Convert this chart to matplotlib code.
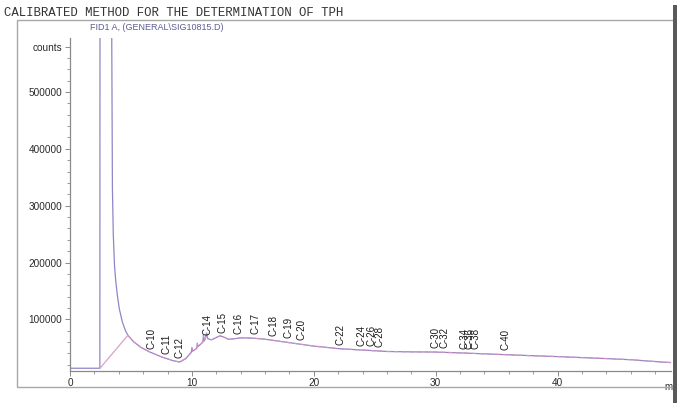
import numpy as np
import matplotlib
matplotlib.use("Agg")
import matplotlib.pyplot as plt
from matplotlib.patches import Rectangle

# chromatogram trace (retention time in min, detector counts)
time_min = [0.0, 2.45, 2.46, 3.42, 3.48, 3.55, 3.65, 3.75, 3.9, 4.05, 4.3,
            4.55, 4.75, 5.2, 5.8, 6.5, 7.5, 8.5, 9.0, 9.5, 9.95, 10.0, 10.05,
            10.4, 10.45, 10.5, 10.9, 10.95, 11.0, 11.1, 11.2, 11.3, 11.6, 12.0,
            12.3, 12.6, 13.0, 13.5, 14.0, 15.0, 16.0, 17.0, 18.0, 19.0, 20.0,
            22.0, 24.0, 26.0, 28.0, 30.0, 32.0, 35.0, 38.0, 40.0, 44.0, 46.0,
            48.5, 49.3]
counts = [14000, 14000, 620000, 620000, 330000, 250000, 195000, 168000,
          140000, 118000, 95000, 80000, 72000, 61000, 51000, 43000, 34000,
          27000, 25000, 31000, 42000, 50000, 44000, 49000, 58000, 52000, 60000,
          72000, 62000, 66000, 76000, 66000, 64000, 68000, 71000, 69000, 65000,
          66000, 67500, 67000, 65000, 62000, 59000, 56000, 53000, 48500, 46000,
          43500, 42800, 42500, 41000, 38500, 36000, 34500, 31000, 29000, 25000,
          24000]

# integration baseline drawn from the solvent front to the hump
baseline_t = [2.46, 4.75]
baseline_v = [14000, 72000]

peak_names = ["C-10", "C-11", "C-12", "C-14", "C-15", "C-16", "C-17", "C-18",
              "C-19", "C-20", "C-22", "C-24", "C-26", "C-28", "C-30", "C-32",
              "C-34", "C-36", "C-38", "C-40"]
peak_times = [6.7, 7.9, 8.95, 11.3, 12.55, 13.8, 15.2, 16.7, 17.9, 19.0, 22.2,
              23.9, 24.7, 25.4, 30.0, 30.75, 32.4, 32.8, 33.3, 35.7]

y_ticks = [100000, 200000, 300000, 400000, 500000]

fig = plt.figure(figsize=(6.91, 4.03), dpi=100)
ax = fig.add_axes([0.1013, 0.0806, 0.8697, 0.8251])

trace_col = "#8f86c6"
ax.plot(time_min, counts, color=trace_col, lw=0.9)
ax.plot(baseline_t, baseline_v, color="#d9a2c9", lw=0.9)
t_arr = np.array(time_min)
c_arr = np.array(counts)
mask = t_arr >= baseline_t[-1]
ax.plot(t_arr[mask], c_arr[mask], color="#d98fbf", lw=0.8, ls=(0, (4, 3)))

for name, t in zip(peak_names, peak_times):
    y = np.interp(t, time_min, counts)
    ax.annotate(name, (t, y), xytext=(0, 3), textcoords="offset points",
                rotation=90, ha="center", va="bottom", fontsize=7.0,
                color="#1a1a1a", family="Liberation Sans")

ax.set_xlim(0, 49.3)
ax.set_ylim(10000, 595000)
ax.set_yticks(y_ticks + [580000])
ax.set_yticklabels([str(v) for v in y_ticks] + ["counts"])
ax.set_yticks(np.arange(20000, 600000, 20000), minor=True)
ax.set_xticks([0, 10, 20, 30, 40])
ax.set_xticks(np.arange(0, 49, 2), minor=True)

for s in ["top", "right"]:
    ax.spines[s].set_visible(False)
for s in ["left", "bottom"]:
    ax.spines[s].set_color("#8a8a8a")
    ax.spines[s].set_linewidth(0.9)

ax.tick_params(which="major", length=3.5, width=0.7, color="#8a8a8a",
               labelsize=7.2, labelcolor="#2a2a2a", pad=2)
ax.tick_params(which="minor", length=2, width=0.6, color="#8a8a8a")
for lab in ax.get_xticklabels() + ax.get_yticklabels():
    lab.set_family("Liberation Sans")
ax.text(49.1, -0.035, "m", transform=ax.get_xaxis_transform(), fontsize=7,
        color="#333333", ha="center", va="top", family="Liberation Sans")

# outer frame and title lines
fig.patches.append(Rectangle((0.0246, 0.0397), 0.9508, 0.9103,
                             transform=fig.transFigure, fill=False,
                             edgecolor="#a8a8a8", lw=1.0))
fig.patches.append(Rectangle((0.974, 0.0), 0.006, 0.988,
                             transform=fig.transFigure, color="#5a5a5a",
                             lw=0))
fig.text(0.006, 0.968, "CALIBRATED METHOD FOR THE DETERMINATION OF TPH",
         family="Liberation Mono", fontsize=8.9, color="#333333",
         ha="left", va="center")
fig.text(0.130, 0.933, "FID1 A, (GENERAL\\SIG10815.D)",
         family="Liberation Sans", fontsize=6.5, color="#5c5c96",
         ha="left", va="center")

fig.savefig("out.png", dpi=100)
